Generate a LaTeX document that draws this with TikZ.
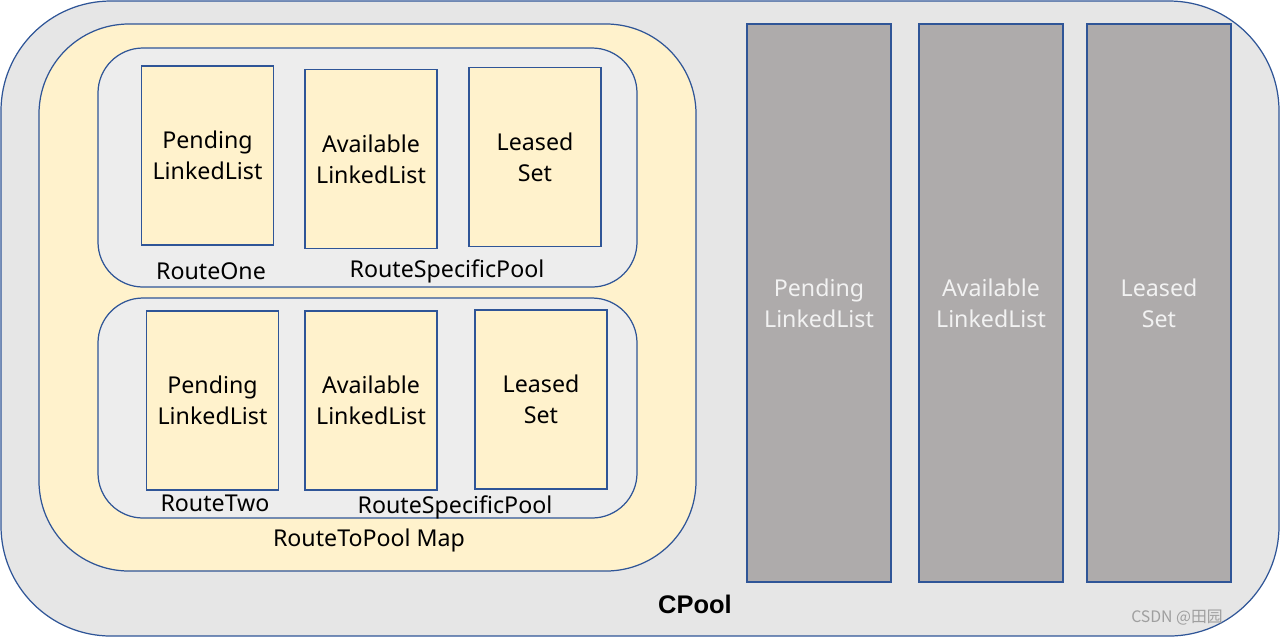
\documentclass[tikz,border=0pt]{standalone}
\usepackage{fontspec}
\setmainfont{Noto Sans}
\newfontfamily\cjk{Noto Sans CJK SC}
\newfontfamily\heavy{Liberation Sans}
\definecolor{edgeblue}{HTML}{2F5597}
\definecolor{poolgray}{HTML}{E6E6E6}
\definecolor{mapyellow}{HTML}{FFF2CC}
\definecolor{routegray}{HTML}{EDEDED}
\definecolor{listgray}{HTML}{AEABAB}
\definecolor{listtext}{HTML}{F2F2F2}
\tikzset{
  frame/.style={draw=edgeblue,line width=0.7pt},
  listbox/.style={frame,fill=mapyellow,inner sep=0pt,minimum width=2.64cm,
    minimum height=3.58cm,align=center,font=\fontsize{13.2}{17.6}\selectfont},
  biglist/.style={frame,fill=listgray,text=listtext,inner sep=0pt,minimum width=2.88cm,
    minimum height=11.16cm,align=center,font=\fontsize{13.2}{17.6}\selectfont},
  lbl/.style={inner sep=0pt,font=\fontsize{13.2}{17}\selectfont}
}
\begin{document}
\begin{tikzpicture}[x=0.02cm,y=-0.02cm]
  \useasboundingbox (0,0) rectangle (1280,637);
  % CPool
  \draw[frame,fill=poolgray,rounded corners=2.2cm] (1,1) rectangle (1279,636);
  % RouteToPool map with its two route pools
  \draw[frame,fill=mapyellow,rounded corners=1.8cm] (39,24) rectangle (696,571);
  \draw[frame,fill=routegray,rounded corners=0.9cm] (98,48) rectangle (637,287);
  \draw[frame,fill=routegray,rounded corners=0.9cm] (98,298) rectangle (637,518);

  \foreach \nm/\cx/\cy/\txt in {pendOne/207.5/155.5/{Pending\\LinkedList},
    availOne/371/159/{Available\\LinkedList},leasedOne/535/157/{Leased\\Set},
    pendTwo/212.5/400.5/{Pending\\LinkedList},availTwo/371/400.5/{Available\\LinkedList},
    leasedTwo/541/399.5/{Leased\\Set}}
  {
    \node[listbox] (\nm) at (\cx,\cy) {\txt};
  }

  \foreach \nm/\cx/\txt in {pendAll/819/{Pending\\LinkedList},
    availAll/991/{Available\\LinkedList},leasedAll/1159/{Leased\\Set}}
  {
    \node[biglist] (\nm) at (\cx,303) {\txt};
  }

  \node[lbl] (routeOne) at (211,271) {RouteOne};
  \node[lbl] (poolOne) at (447,271) {RouteSpecificPool};
  \node[lbl] (routeTwo) at (215,503) {RouteTwo};
  \node[lbl] (poolTwo) at (455,507) {RouteSpecificPool};
  \node[lbl] (mapLbl) at (369,540) {RouteToPool Map};
  \node[inner sep=0pt,font=\heavy\bfseries\fontsize{14.5}{17}\selectfont] (cpool)
    at (695,604) {CPool};
  \node[inner sep=0pt,text=gray!75,font=\cjk\fontsize{9}{11}\selectfont] (mark)
    at (1177,618) {CSDN @田园};
\end{tikzpicture}
\end{document}
